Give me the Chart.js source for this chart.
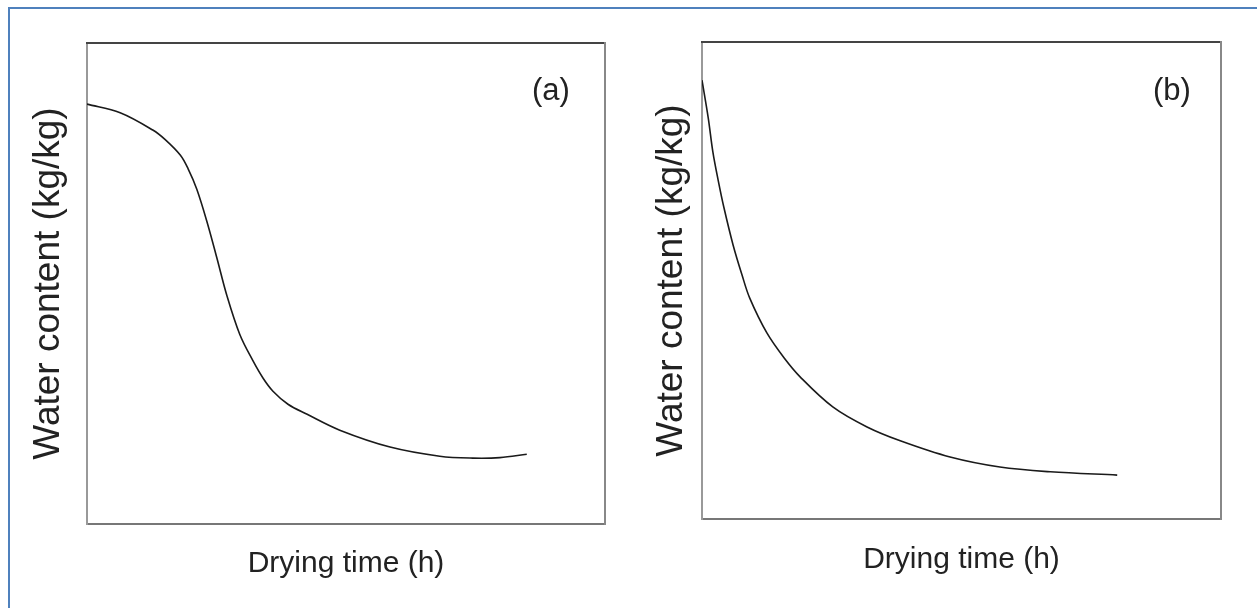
<!DOCTYPE html>
<html>
<head>
<meta charset="utf-8">
<script src="https://cdn.jsdelivr.net/npm/chart.js@4/dist/chart.umd.min.js"></script>
<style>
  html, body { margin:0; padding:0; background:#fff; width:1257px; height:608px; overflow:hidden; }
  #frame { position:absolute; left:8px; top:7px; width:1400px; height:800px; border:2px solid #4f81bd; box-sizing:border-box; }
  canvas { position:absolute; top:0; }
  #ca { left:0; }
  #cb { left:650px; }
  .tag { position:absolute; font-family:"Liberation Sans",Arial,sans-serif; font-size:31px; color:#222; line-height:1; }
</style>
</head>
<body>
<div id="frame"></div>
<canvas id="ca" width="650" height="608"></canvas>
<canvas id="cb" width="607" height="608"></canvas>
<div class="tag" id="ta" style="left:532px; top:74px;">(a)</div>
<div class="tag" id="tb" style="left:1153px; top:74px;">(b)</div>
<script>
// Panel (a): drying time vs water content (arbitrary units, no tick values shown)
const timeA  = [0, 0.64, 1.27, 1.51, 1.80, 1.95, 2.12, 2.32, 2.51, 2.70, 2.95, 3.20, 3.40, 3.59, 3.88, 4.25, 4.88, 5.85, 6.81, 7.45, 7.97, 8.49];
const waterA = [8.73, 8.55, 8.19, 7.99, 7.67, 7.39, 6.96, 6.27, 5.52, 4.75, 3.94, 3.40, 3.03, 2.76, 2.49, 2.28, 1.95, 1.60, 1.41, 1.37, 1.38, 1.45];
// Panel (b)
const timeB  = [0, 0.12, 0.21, 0.31, 0.42, 0.60, 0.77, 0.92, 1.25, 1.58, 1.89, 2.52, 3.18, 3.82, 4.78, 5.74, 6.71, 8.00];
const waterB = [9.20, 8.41, 7.69, 7.11, 6.54, 5.74, 5.12, 4.63, 3.90, 3.38, 2.98, 2.35, 1.93, 1.64, 1.30, 1.09, 0.99, 0.92];
const xTitle = 'Drying time (h)';
const yTitle = 'Water content (kg/kg)';

const regular = '"Liberation Sans",Arial,sans-serif';

function pts(xs, ys) { return xs.map((x, i) => ({x: x, y: ys[i]})); }

function plainAxis(pos, color) {
  return {
    type: 'linear', position: pos, min: 0, max: 10,
    ticks: { display: false },
    grid: { display: false, drawTicks: false, tickLength: 0 },
    border: { display: true, color: color, width: 2 }
  };
}

function makeChart(id, xs, ys, pad, yPad, xPad) {
  const x = plainAxis('bottom', '#777');
  x.title = { display: true, text: xTitle, color: '#222',
              font: { family: regular, size: 30, lineHeight: 1 }, padding: xPad };
  const y = plainAxis('left', '#999');
  y.title = { display: true, text: yTitle, color: '#222',
              font: { family: regular, size: 37, lineHeight: 1 }, padding: yPad };
  return new Chart(document.getElementById(id), {
    type: 'line',
    data: { datasets: [{
      data: pts(xs, ys),
      borderColor: '#1a1a1a', borderWidth: 1.6,
      pointRadius: 0, fill: false,
      tension: 0.35
    }]},
    options: {
      responsive: false, animation: false,
      layout: { padding: pad },
      plugins: { legend: { display: false }, tooltip: { enabled: false } },
      scales: { x: x, y: y, xt: plainAxis('top', '#444'), yr: plainAxis('right', '#888') }
    }
  });
}

makeChart('ca', timeA, waterA, { left: 30, top: 43, right: 45, bottom: 10 },
          { top: 0, bottom: 20 }, { top: 25, bottom: 19 });
makeChart('cb', timeB, waterB, { left: 3, top: 42, right: 36, bottom: 10 },
          { top: 0, bottom: 12 }, { top: 26, bottom: 23 });
</script>
</body>
</html>
